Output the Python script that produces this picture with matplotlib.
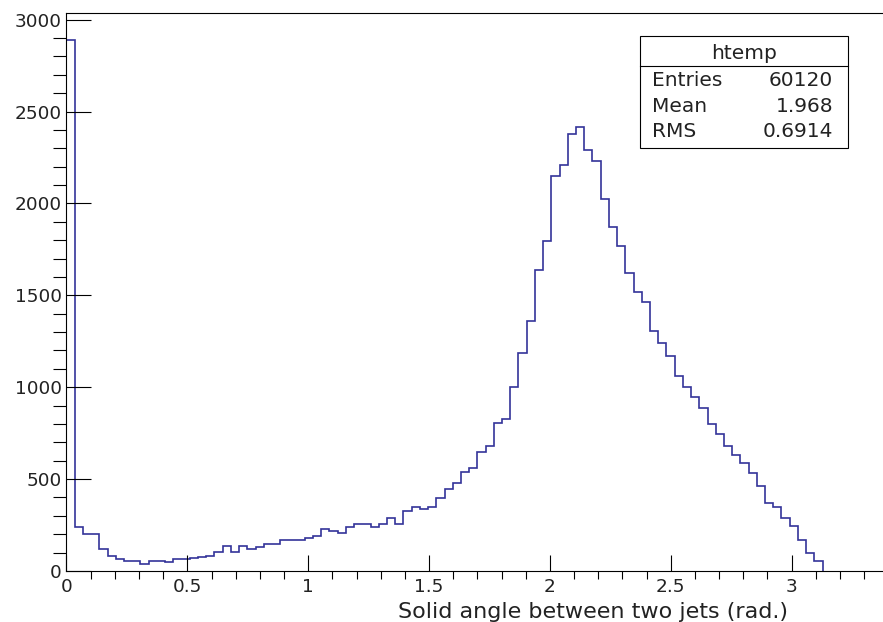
import numpy as np
import matplotlib
matplotlib.use('Agg')
from matplotlib import pyplot as plt
from matplotlib.patches import Rectangle
from matplotlib.ticker import MultipleLocator

plt.rcParams['font.family'] = ['DejaVu Sans']

# htemp: 100 bins of 0.034 rad from 0 to 3.4, bins above 3.128 are empty
bin_width = 0.034
n_bins = 100
counts = [2890, 241, 200, 200, 121, 82, 64, 56, 56, 38,
          56, 54, 47, 67, 67, 72, 78, 82, 105, 138,
          102, 136, 118, 132, 145, 145, 170, 170, 168, 178,
          192, 230, 219, 208, 238, 256, 256, 238, 256, 287,
          256, 328, 350, 335, 350, 399, 446, 480, 540, 558,
          645, 681, 806, 827, 999, 1187, 1361, 1640, 1793, 2150,
          2211, 2376, 2416, 2289, 2231, 2023, 1872, 1769, 1624, 1519,
          1464, 1307, 1238, 1169, 1063, 1000, 946, 888, 799, 747,
          680, 631, 586, 535, 462, 372, 350, 291, 243, 167,
          98, 55]
stats_names = ['Entries', 'Mean', 'RMS']
stats_values = ['60120', '1.968', '0.6914']

edges = np.arange(len(counts) + 1) * bin_width
x_max = n_bins * bin_width
y_max = 1.05 * max(counts)

fig = plt.figure(figsize=(8.83, 6.22), dpi=100)
ax = fig.add_axes([0.0753, 0.082, 0.9307, 0.8966])

ax.stairs(counts, edges, color='#333399', lw=1.2, baseline=0)

ax.set_xlim(0, x_max)
ax.set_ylim(0, y_max)
ax.xaxis.set_major_locator(MultipleLocator(0.5))
ax.xaxis.set_minor_locator(MultipleLocator(0.1))
ax.yaxis.set_major_locator(MultipleLocator(500))
ax.yaxis.set_minor_locator(MultipleLocator(100))
ax.xaxis.set_major_formatter(plt.FuncFormatter(lambda v, p: '%g' % v))

ax.tick_params(axis='both', direction='in', top=False, right=False,
               labelsize=13.3, width=0.8, colors='black', labelcolor='#222222')
ax.tick_params(axis='y', which='major', length=18, pad=3.5)
ax.tick_params(axis='y', which='minor', length=9.4, width=0.8)
ax.tick_params(axis='x', which='major', length=11.5, pad=5)
ax.tick_params(axis='x', which='minor', length=5.8, width=0.8)
for s in ax.spines.values():
    s.set_linewidth(0.8)

ax.set_xlabel('Solid angle between two jets (rad.)', fontsize=16, ha='right',
              va='baseline', color='#222222')
ax.xaxis.set_label_coords(0.878, -0.0835)

# stats box
fig.add_artist(Rectangle((0.7248, 0.7616), 0.2352, 0.1805, transform=fig.transFigure,
                         facecolor='white', edgecolor='black', lw=0.8))
fig.add_artist(plt.Line2D([0.7248, 0.96], [0.8944, 0.8944], transform=fig.transFigure,
                          color='black', lw=0.8))
fig.text(0.8424, 0.9143, 'htemp', ha='center', va='center', fontsize=14.5,
         color='#222222')
row_y = [0.8703, 0.8285, 0.7883]
for name, val, y in zip(stats_names, stats_values, row_y):
    fig.text(0.738, y, name, ha='left', va='center', fontsize=14.5, color='#222222')
    fig.text(0.9437, y, val, ha='right', va='center', fontsize=14.5, color='#222222')

fig.savefig('out.png', dpi=100)
